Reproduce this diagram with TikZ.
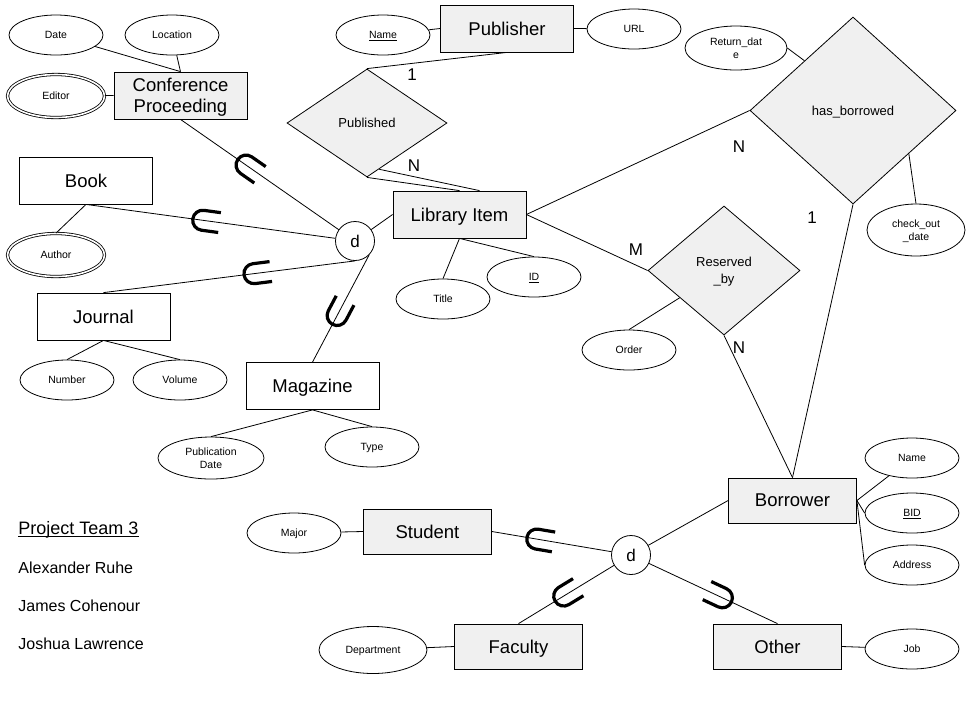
\documentclass[tikz,border=0pt]{standalone}
\usepackage{fontspec}
\setmainfont{Liberation Sans}
\usetikzlibrary{shapes.geometric,calc}

\tikzset{
  entity/.style={draw, fill=gray!12, minimum width=133pt, minimum height=47pt, inner sep=0pt,
    align=center, text depth=0pt, font=\fontsize{18.5}{21}\selectfont},
  plainent/.style={entity, fill=white},
  smallent/.style={entity, minimum width=128pt, minimum height=45pt},
  attr/.style={draw, ellipse, fill=white, minimum width=94pt, minimum height=40pt, inner sep=0pt,
    align=center, text depth=0pt, font=\fontsize{10.5}{13.5}\selectfont},
  multiattr/.style={attr, double, double distance=1.6pt, minimum width=97pt, minimum height=43pt},
  rel/.style={draw, diamond, fill=gray!12, inner sep=0pt, align=center, text depth=0pt,
    font=\fontsize{13}{16.5}\selectfont},
  disj/.style={draw, circle, fill=white, minimum size=39pt, inner sep=0pt,
    font=\fontsize{17}{20}\selectfont},
  card/.style={inner sep=0pt, font=\fontsize{17}{20}\selectfont},
  team/.style={anchor=base west, inner sep=0pt, font=\fontsize{16}{19}\selectfont},
  subsetmark/.style={pos=#1, sloped, allow upside down},
  subset/.pic={\draw[line width=3.2pt] (14,10) -- (-3,10) arc[start angle=90, end angle=270, radius=10] -- (14,-10);}
}

\begin{document}
\begin{tikzpicture}[x=1pt, y=-1pt, line width=0.8pt]
  \useasboundingbox (0,0) rectangle (972,724);

  % entities
  \node[entity] (publisher) at (507,28.5) {Publisher};
  \node[entity] (confproc) at (180.5,95.5) {Conference\\Proceeding};
  \node[plainent] (book) at (86,180.5) {Book};
  \node[plainent] (journal) at (103.5,316.5) {Journal};
  \node[plainent] (magazine) at (312.5,386) {Magazine};
  \node[entity] (libitem) at (459.5,214.5) {Library Item};
  \node[smallent] (borrower) at (792.5,500.5) {Borrower};
  \node[smallent] (student) at (427.5,531.5) {Student};
  \node[smallent] (faculty) at (518.5,646.5) {Faculty};
  \node[smallent] (other) at (777.5,646.5) {Other};

  % relationships
  \node[rel, minimum width=160pt, minimum height=108pt] (published) at (367,123) {Published};
  \node[rel, minimum width=206pt, minimum height=187pt] (hasborrowed) at (853,110.5) {has\_borrowed};
  \node[rel, minimum width=152pt, minimum height=129pt] (reservedby) at (724,270.5) {Reserved\\\_by};

  % disjoint circles
  \node[disj] (dlib) at (355,241) {d};
  \node[disj] (dborr) at (631,555) {d};

  % attributes
  \node[attr] (date) at (56,35) {Date};
  \node[attr] (location) at (172,35) {Location};
  \node[multiattr] (editor) at (56,96) {Editor};
  \node[attr] (pubname) at (383,35) {\underline{Name}};
  \node[attr] (url) at (634,29) {URL};
  \node[attr, minimum width=102pt, minimum height=44pt] (returndate) at (736,48) {Return\_dat\\e};
  \node[attr, minimum width=98pt, minimum height=52pt] (checkout) at (916,230) {check\_out\\\_date};
  \node[multiattr] (author) at (56,255) {Author};
  \node[attr] (number) at (67,380) {Number};
  \node[attr] (volume) at (180,380) {Volume};
  \node[attr, minimum width=106pt, minimum height=42pt] (pubdate) at (211,458) {Publication\\Date};
  \node[attr] (type) at (372,447) {Type};
  \node[attr] (title) at (443,299) {Title};
  \node[attr] (itemid) at (534,277) {\underline{ID}};
  \node[attr] (order) at (629,350) {Order};
  \node[attr] (major) at (294,533) {Major};
  \node[attr, minimum width=108pt, minimum height=47pt] (department) at (373,650) {Department};
  \node[attr] (bname) at (912,458) {Name};
  \node[attr] (bid) at (912,513) {\underline{BID}};
  \node[attr] (address) at (912,565) {Address};
  \node[attr] (job) at (912,649) {Job};

  % attribute links
  \draw (date) -- (confproc.north);
  \draw (location) -- (confproc.north);
  \draw (editor) -- (confproc.west);
  \draw (pubname) -- (publisher.west);
  \draw (publisher.east) -- (url);
  \draw (book.south) -- (author.north);
  \draw (journal.south) -- (number.north);
  \draw (journal.south) -- (volume.north);
  \draw (magazine.south) -- (pubdate.north);
  \draw (magazine.south) -- (type.north);
  \draw (title.north) -- (libitem.south);
  \draw (itemid.north) -- (libitem.south);
  \draw ($(reservedby.west)!0.42!(reservedby.south)$) -- (order.north);
  \draw (returndate.east) -- ($(hasborrowed.west)!0.53!(hasborrowed.north)$);
  \draw ($(hasborrowed.east)!0.46!(hasborrowed.south)$) -- (checkout.north);
  \draw (borrower.east) -- (bname);
  \draw (borrower.east) -- (bid.west);
  \draw (borrower.east) -- (address.west);
  \draw (major) -- (student.west);
  \draw (department) -- (faculty.west);
  \draw (other.east) -- (job);

  % relationship links
  \draw (publisher.south) -- (published.north);
  \draw (published.south) -- (libitem.north);
  \draw ($(published.south)!0.15!(published.east)$) -- ([xshift=20pt]libitem.north);
  \draw (libitem.east) -- (hasborrowed.west);
  \draw (libitem.east) -- (reservedby.west);
  \draw (reservedby.south) -- (borrower.north);
  \draw (hasborrowed.south) -- (borrower.north);

  % specialisation
  \draw (dlib) -- (libitem.west);
  \draw (confproc.south) -- (dlib) pic[subsetmark=0.43] {subset};
  \draw (book.south) -- (dlib) pic[subsetmark=0.48] {subset};
  \draw (journal.north) -- (dlib.south) pic[subsetmark=0.61] {subset};
  \draw (magazine.north) -- (dlib.-45) pic[subsetmark=0.46] {subset};
  \draw (borrower.west) -- (dborr);
  \draw (student.east) -- (dborr) pic[subsetmark=0.40] {subset};
  \draw (faculty.north) -- (dborr) pic[subsetmark=0.50] {subset};
  \draw (other.north) -- (dborr) pic[subsetmark=0.45] {subset};

  % cardinalities
  \node[card] (cpub) at (412,75) {1};
  \node[card] (citem) at (414,166) {N};
  \node[card] (cborrowitem) at (739,147) {N};
  \node[card] (cborrower) at (812,218) {1};
  \node[card] (creserveitem) at (636,250) {M};
  \node[card] (creserver) at (739,348) {N};

  % team
  \node[team, font=\fontsize{18}{21}\selectfont] (teamtitle) at (18,534) {Project Team 3};
  \draw[line width=1pt] ([yshift=-2.5pt]teamtitle.base west) -- ([yshift=-2.5pt]teamtitle.base east);
  \node[team] (member1) at (18,573) {Alexander Ruhe};
  \node[team] (member2) at (18,611) {James Cohenour};
  \node[team] (member3) at (18,649) {Joshua Lawrence};
\end{tikzpicture}
\end{document}
